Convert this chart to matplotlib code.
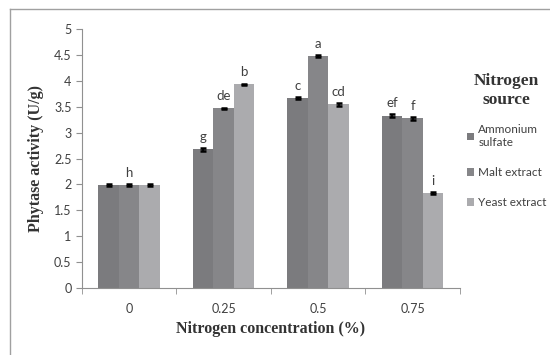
import matplotlib.pyplot as plt
import numpy as np
from matplotlib.lines import Line2D

concentrations = ['0', '0.25', '0.5', '0.75']
sources = ['Ammonium\nsulfate', 'Malt extract', 'Yeast extract']

ammonium = [1.98, 2.68, 3.67, 3.33]
malt = [1.98, 3.47, 4.48, 3.28]
yeast = [1.98, 3.93, 3.55, 1.83]

ammonium_err = [0.02, 0.03, 0.02, 0.03]
malt_err = [0.02, 0.01, 0.02, 0.03]
yeast_err = [0.02, 0.01, 0.03, 0.02]

ammonium_sig = ['', 'g', 'c', 'ef']
malt_sig = ['h', 'de', 'a', 'f']
yeast_sig = ['', 'b', 'cd', 'i']

colors = ['#7b7b7e', '#868689', '#ababae']
tick_color = '#404040'
sans = 'Lato'

fig = plt.figure(figsize=(5.5, 3.55), dpi=100)
ax = fig.add_axes([0.149, 0.189, 0.687, 0.729])

# outer frame lines (left and top)
fig.add_artist(Line2D([0.018, 0.018], [0.0, 0.975], color='#a0a0a0', lw=1))
fig.add_artist(Line2D([0.018, 1.0], [0.975, 0.975], color='#a0a0a0', lw=1))

x = np.arange(len(concentrations))
w = 0.217
series = [ammonium, malt, yeast]
errs = [ammonium_err, malt_err, yeast_err]
sigs = [ammonium_sig, malt_sig, yeast_sig]

for i in range(3):
    xs = x + (i - 1) * w
    ax.bar(xs, series[i], width=w, color=colors[i], label=sources[i], zorder=2)
    ax.errorbar(xs, series[i], yerr=errs[i], fmt='none', ecolor='black',
                elinewidth=1.2, capsize=2.5, capthick=1.8, zorder=3)
    for xi, v, s in zip(xs, series[i], sigs[i]):
        if s:
            ax.text(xi, v + 0.12, s, ha='center', va='bottom', fontsize=9.5,
                    color=tick_color, family=sans)

ax.set_xlim(-0.5, 3.5)
ax.set_ylim(0, 5)
ax.set_yticks(np.arange(0, 5.01, 0.5))
ax.set_yticklabels(['0', '0.5', '1', '1.5', '2', '2.5', '3', '3.5', '4', '4.5', '5'])
ax.set_xticks(x)
ax.set_xticklabels(concentrations)
ax.set_xticks(np.arange(-0.5, 3.6, 1), minor=True)
ax.tick_params(axis='x', which='major', length=0, pad=11)
ax.tick_params(axis='x', which='minor', length=4, color='#909090')
ax.tick_params(axis='y', length=4, color='#909090')
for lab in ax.get_xticklabels() + ax.get_yticklabels():
    lab.set_family(sans)
    lab.set_fontsize(9)
    lab.set_color(tick_color)

for sp in ['top', 'right']:
    ax.spines[sp].set_visible(False)
ax.spines['left'].set_color('#909090')
ax.spines['bottom'].set_color('#909090')

ax.set_xlabel('Nitrogen concentration (%)', family='Liberation Serif',
              fontweight='bold', fontsize=11.5, color='#333333', labelpad=4)
ax.set_ylabel('Phytase activity (U/g)', family='Liberation Serif',
              fontweight='bold', fontsize=11.5, color='#333333', labelpad=7)

leg = ax.legend(loc='upper left', bbox_to_anchor=(0.99, 0.87), frameon=False,
                title='Nitrogen\nsource', handlelength=0.6, handleheight=0.6,
                handletextpad=0.4, labelspacing=1.6,
                prop={'family': sans, 'size': 8.5})
leg.get_title().set_fontproperties({'family': 'Liberation Serif', 'weight': 'bold', 'size': 12.5})
leg.get_title().set_color('#333333')
leg.get_title().set_multialignment('center')
leg._legend_box.sep = 12
for t in leg.get_texts():
    t.set_color(tick_color)

fig.savefig('out.png', dpi=100)
